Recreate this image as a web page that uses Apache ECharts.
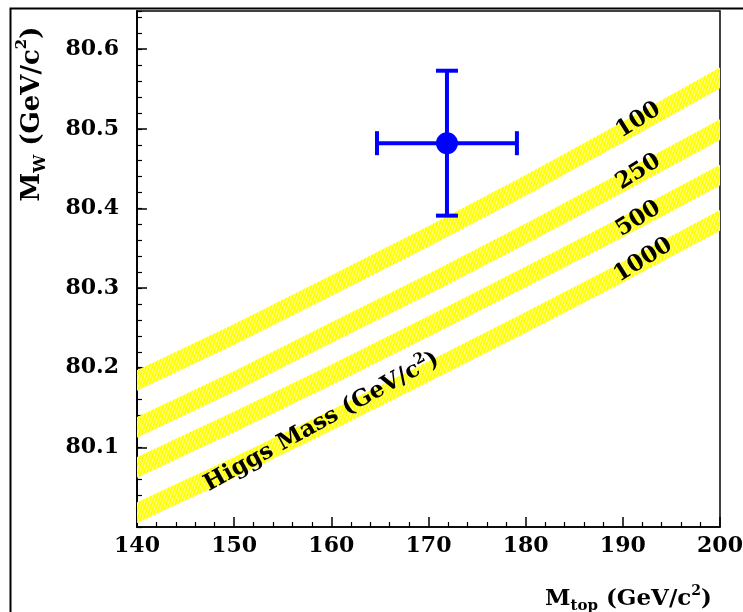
<!DOCTYPE html>
<html>
<head>
<meta charset="utf-8">
<script src="https://cdn.jsdelivr.net/npm/echarts@6/dist/echarts.min.js"></script>
<style>
html,body{margin:0;padding:0;background:#fff;}
#chart{width:743px;height:612px;}
</style>
</head>
<body>
<div id="chart"></div>
<script>
// ---- data ----
const mTop = [140, 150, 160, 170, 180, 190, 200];
const mW_H100  = [80.184, 80.242, 80.303, 80.365, 80.429, 80.496, 80.564];
const mW_H250  = [80.125, 80.183, 80.244, 80.305, 80.368, 80.433, 80.499];
const mW_H500  = [80.075, 80.132, 80.191, 80.252, 80.314, 80.377, 80.442];
const mW_H1000 = [80.018, 80.075, 80.134, 80.195, 80.257, 80.320, 80.385];
const bandHalfWidth = 0.013;
const higgsLabels = ['100', '250', '500', '1000'];
const higgsLabelMt = [191.6, 191.6, 191.6, 192.1];
const higgsLabelMw = [80.511, 80.446, 80.387, 80.335];
const bandTitle = 'Higgs Mass (GeV/c{sup|2})';
const bandTitleMt = [159.0];
const bandTitleMw = [80.132];
const measMt = [171.9];
const measMw = [80.482];
const measMtErr = [7.2];
const measMwErr = [0.091];
const xTicks = [140, 150, 160, 170, 180, 190, 200];
const yTicks = [80.1, 80.2, 80.3, 80.4, 80.5, 80.6];

const bands = [mW_H100, mW_H250, mW_H500, mW_H1000];

// hatch pattern
const pc = document.createElement('canvas');
pc.width = 3; pc.height = 9;
const pctx = pc.getContext('2d');
pctx.fillStyle = '#ffff00';
pctx.fillRect(0, 0, 3, 9);
pctx.strokeStyle = 'rgba(255,255,255,0.85)';
pctx.lineWidth = 0.7;
for (let k = -1; k <= 1; k++) {
  pctx.beginPath();
  pctx.moveTo(k * 3, 9);
  pctx.lineTo(k * 3 + 3, 0);
  pctx.stroke();
}
const hatch = { image: pc, repeat: 'repeat' };

const FONT = 'DejaVu Serif';
const axisColor = '#000';

const chart = echarts.init(document.getElementById('chart'), null, { renderer: 'canvas' });

const option = {
  backgroundColor: '#fff',
  animation: false,
  graphic: [{
    type: 'rect', z: 0,
    shape: { x: 10.5, y: 8.5, width: 800, height: 700 },
    style: { fill: 'none', stroke: '#000', lineWidth: 2 }
  }],
  grid: {
    left: 137, right: 23, top: 11, bottom: 85,
    outerBoundsMode: 'none', containLabel: false,
    show: true, borderColor: '#000', borderWidth: 1.5, backgroundColor: 'transparent'
  },
  xAxis: {
    type: 'value', min: xTicks[0], max: xTicks[xTicks.length - 1], interval: 10,
    name: 'M{sub|top} (GeV/c{sup|2})',
    nameLocation: 'middle', nameGap: 57,
    nameTextStyle: {
      color: '#000', fontFamily: FONT, fontWeight: 'bold', fontSize: 23, lineHeight: 30,
      padding: [0, 0, 0, 400],
      rich: {
        sub: { fontFamily: FONT, fontWeight: 'bold', fontSize: 15, verticalAlign: 'bottom', lineHeight: 14, color: '#000' },
        sup: { fontFamily: FONT, fontWeight: 'bold', fontSize: 14, verticalAlign: 'top', lineHeight: 13, color: '#000' }
      }
    },
    axisLine: { show: true, lineStyle: { color: axisColor, width: 1.5 } },
    axisTick: { show: true, inside: true, length: 10, lineStyle: { color: axisColor, width: 1.5 } },
    minorTick: { show: true, splitNumber: 5, length: 5, lineStyle: { color: axisColor, width: 1.2 } },
    splitLine: { show: false },
    minorSplitLine: { show: false },
    axisLabel: { color: '#000', fontFamily: FONT, fontWeight: 'bold', fontSize: 22, margin: 8 }
  },
  yAxis: [{
    type: 'value', min: 80.0, max: 80.648, interval: 0.02,
    axisLine: { show: true, lineStyle: { color: axisColor, width: 1.5 } },
    axisTick: { show: true, inside: true, length: 5, lineStyle: { color: axisColor, width: 1.2 } },
    axisLabel: { show: false },
    splitLine: { show: false }
  }, {
    type: 'value', min: 80.0, max: 80.648, interval: 0.1, position: 'left',
    name: 'M{sub|W} (GeV/c{sup|2})',
    nameLocation: 'middle', nameRotate: 90, nameGap: 88,
    nameTextStyle: {
      color: '#000', fontFamily: FONT, fontWeight: 'bold', fontSize: 26, lineHeight: 34,
      padding: [0, 0, 0, 310],
      rich: {
        sub: { fontFamily: FONT, fontWeight: 'bold', fontSize: 16, verticalAlign: 'bottom', lineHeight: 16, color: '#000' },
        sup: { fontFamily: FONT, fontWeight: 'bold', fontSize: 15, verticalAlign: 'top', lineHeight: 15, color: '#000' }
      }
    },
    axisLine: { show: true, lineStyle: { color: axisColor, width: 1.5 } },
    axisTick: { show: true, inside: true, length: 10, lineStyle: { color: axisColor, width: 1.5 } },
    axisLabel: {
      color: '#000', fontFamily: FONT, fontWeight: 'bold', fontSize: 22, margin: 18,
      showMinLabel: false, showMaxLabel: false,
      formatter: function (v) {
        const hit = yTicks.find(t => Math.abs(t - v) < 1e-6);
        return hit !== undefined ? hit.toFixed(1) : '';
      }
    },
    splitLine: { show: false }
  }],
  series: [
    {
      type: 'custom', name: 'bands', z: 2,
      data: bands.map(b => [mTop[0], b[0]]),
      encode: { x: 0, y: 1 },
      clip: true,
      renderItem: function (params, api) {
        const vals = bands[params.dataIndex];
        const upper = mTop.map((m, j) => api.coord([m, vals[j] + bandHalfWidth]));
        const lower = mTop.map((m, j) => api.coord([m, vals[j] - bandHalfWidth])).reverse();
        return {
          type: 'polygon',
          shape: { points: upper.concat(lower) },
          style: { fill: hatch, stroke: null }
        };
      }
    },
    {
      type: 'custom', name: 'higgsLabels', z: 5,
      data: higgsLabelMt.map((m, i) => [m, higgsLabelMw[i]]),
      encode: { x: 0, y: 1 },
      renderItem: function (params, api) {
        const p = api.coord([api.value(0), api.value(1)]);
        return {
          type: 'text', x: p[0], y: p[1], rotation: 32 * Math.PI / 180,
          style: {
            text: higgsLabels[params.dataIndex],
            fontFamily: FONT, fontWeight: 'bold', fontSize: 23, fill: '#000',
            align: 'center', verticalAlign: 'middle'
          }
        };
      }
    },
    {
      type: 'custom', name: 'bandTitle', z: 5,
      data: bandTitleMt.map((m, i) => [m, bandTitleMw[i]]),
      encode: { x: 0, y: 1 },
      renderItem: function (params, api) {
        const p = api.coord([api.value(0), api.value(1)]);
        return {
          type: 'text', x: p[0], y: p[1], rotation: 29 * Math.PI / 180,
          style: {
            text: bandTitle,
            fontFamily: FONT, fontWeight: 'bold', fontSize: 23, fill: '#000',
            align: 'center', verticalAlign: 'middle', lineHeight: 30,
            rich: {
              sup: { fontFamily: FONT, fontWeight: 'bold', fontSize: 15, verticalAlign: 'top', lineHeight: 14, fill: '#000' }
            }
          }
        };
      }
    },
    {
      type: 'custom', name: 'errors', z: 6,
      data: measMt.map((m, i) => [m, measMw[i], measMtErr[i], measMwErr[i]]),
      encode: { x: 0, y: 1 },
      renderItem: function (params, api) {
        const x = api.value(0), y = api.value(1), ex = api.value(2), ey = api.value(3);
        const l = api.coord([x - ex, y]), r = api.coord([x + ex, y]);
        const t = api.coord([x, y + ey]), b = api.coord([x, y - ey]);
        const st = { stroke: '#0000ff', lineWidth: 4 };
        const capH = 12, capV = 11;
        return {
          type: 'group',
          children: [
            { type: 'line', shape: { x1: l[0], y1: l[1], x2: r[0], y2: r[1] }, style: st },
            { type: 'line', shape: { x1: t[0], y1: t[1], x2: b[0], y2: b[1] }, style: st },
            { type: 'line', shape: { x1: l[0], y1: l[1] - capH, x2: l[0], y2: l[1] + capH }, style: st },
            { type: 'line', shape: { x1: r[0], y1: r[1] - capH, x2: r[0], y2: r[1] + capH }, style: st },
            { type: 'line', shape: { x1: t[0] - capV, y1: t[1], x2: t[0] + capV, y2: t[1] }, style: st },
            { type: 'line', shape: { x1: b[0] - capV, y1: b[1], x2: b[0] + capV, y2: b[1] }, style: st }
          ]
        };
      }
    },
    {
      type: 'scatter', name: 'measurement', z: 7,
      data: measMt.map((m, i) => [m, measMw[i]]),
      symbol: 'circle', symbolSize: 22,
      itemStyle: { color: '#0000ff', opacity: 1 }
    }
  ]
};
chart.setOption(option);
</script>
</body>
</html>
